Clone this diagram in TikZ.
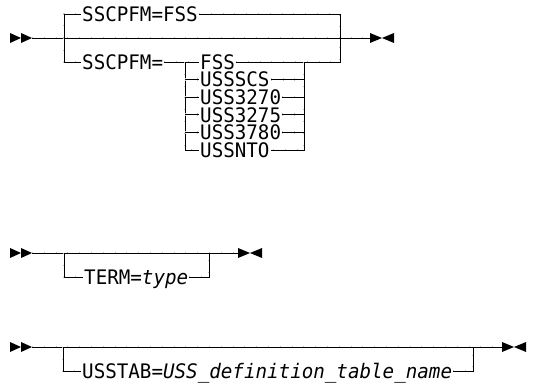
\documentclass[tikz,border=0pt]{standalone}
\usepackage{fontspec}
\setmonofont[FakeStretch=0.96]{DejaVu Sans Mono}
\begin{document}
\begin{tikzpicture}[x=1pt,y=-1pt,
  rail/.style={line width=0.9pt,black,
    preaction={draw=black!25,line width=2.6pt,dash pattern=on 0.8pt off 11pt}},
  lbl/.style={anchor=west,inner xsep=1pt,inner ysep=0pt,text height=14.5pt,text depth=0pt,
    font=\ttfamily\fontsize{20}{21}\selectfont},
  startpic/.pic={\fill (0,-5)--(11,0)--(0,5)--cycle; \fill (11,-5)--(22,0)--(11,5)--cycle;},
  endpic/.pic={\fill (0,-5)--(12,0)--(0,5)--cycle; \fill (24,-5)--(12,0)--(24,5)--cycle;}]
\useasboundingbox (0,0) rectangle (535,387);

% ---------- diagram 1 ----------
\pic at (10,38) {startpic};
\coordinate (s1) at (32,38);
\coordinate (e1) at (370,38);
\pic at (e1) {endpic};
\coordinate (j1) at (64,38);
\coordinate (k1) at (340,38);
\node[lbl] (t1) at (81,14) {SSCPFM=FSS};
\node[lbl] (b1) at (81,62) {SSCPFM=};
\node[lbl] (o1) at (199,62) {FSS};
\node[lbl] (o2) at (199,79.6) {USSSCS};
\node[lbl] (o3) at (199,97.2) {USS3270};
\node[lbl] (o4) at (199,114.8) {USS3275};
\node[lbl] (o5) at (199,132.4) {USS3780};
\node[lbl] (o6) at (199,150) {USSNTO};
\draw[rail] (s1) -- (e1);
\draw[rail] (j1) |- (t1.west);
\draw[rail] (t1.east) -| (k1);
\draw[rail] (j1) |- (b1.west);
\draw[rail] (b1.east) -- (o1.west);
\draw[rail] (o1.east) -| (k1);
\coordinate (l1) at (185,62);
\coordinate (r1) at (304,62);
\draw[rail] (l1) |- (o6.west);
\draw[rail] (r1) |- (o6.east);
\foreach \n in {o2,o3,o4,o5}{
  \draw[rail] (l1 |- \n.west) -- (\n.west);
  \draw[rail] (\n.east) -- (r1 |- \n.east);
}

% ---------- diagram 2 ----------
\pic at (10,253) {startpic};
\coordinate (s2) at (32,253);
\coordinate (e2) at (238,253);
\pic at (e2) {endpic};
\coordinate (j2) at (64,253);
\coordinate (k2) at (209,253);
\node[lbl] (term) at (83,277) {TERM=\textit{type}};
\draw[rail] (s2) -- (e2);
\draw[rail] (j2) |- (term.west);
\draw[rail] (term.east) -| (k2);

% ---------- diagram 3 ----------
\pic at (10,347) {startpic};
\coordinate (s3) at (32,347);
\coordinate (e3) at (502,347);
\pic at (e3) {endpic};
\coordinate (j3) at (63,347);
\coordinate (k3) at (473,347);
\node[lbl] (usstab) at (81,371) {USSTAB=\textit{USS\_definition\_table\_name}};
\draw[rail] (s3) -- (e3);
\draw[rail] (j3) |- (usstab.west);
\draw[rail] (usstab.east) -| (k3);
\end{tikzpicture}
\end{document}
